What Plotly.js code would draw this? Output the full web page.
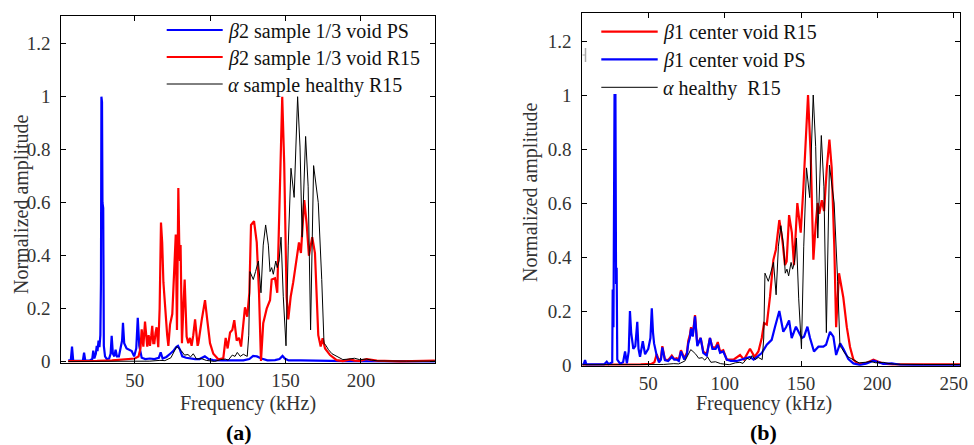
<!DOCTYPE html>
<html>
<head>
<meta charset="utf-8">
<script src="https://cdn.plot.ly/plotly-3.0.1.min.js"></script>
<style>html,body{margin:0;padding:0;background:#fff;}#chart{width:974px;height:445px;}</style>
</head>
<body>
<div id="chart"></div>
<script>
// ---- Panel (a): beta2 sample 1/3 void, PS ----
const b2PsFreq = [5.9,7.6,8.4,9.2,12,15.6,16.4,17.2,20,21.8,22.5,23.2,24.2,24.8,25.3,26,26.6,27.2,27.6,27.9,28.3,28.6,29.1,29.5,30.3,31.4,33,34,34.7,35.5,36.5,37.3,38.2,39.5,40.8,41.6,42.2,43,44.6,46.2,48,49.6,51,52,53,54.6,57,60,63,66,67.2,68.5,71,73.5,75.5,77.5,78.7,80,81.5,84,87,90,93,96.5,99,102,108,115,122,126,128.5,131,134,138,143,146,148,149.5,152,160,170,180,190,200,215,230,249];
const b2PsAmp  = [0.005,0.005,0.057,0.004,0.003,0.004,0.034,0.004,0.004,0.01,0.042,0.012,0.03,0.06,0.04,0.08,0.055,0.1,0.3,1.0,0.98,0.6,0.58,0.06,0.02,0.01,0.012,0.03,0.098,0.03,0.02,0.045,0.02,0.02,0.05,0.08,0.147,0.07,0.05,0.045,0.04,0.02,0.05,0.166,0.06,0.015,0.01,0.012,0.01,0.015,0.035,0.012,0.018,0.03,0.04,0.055,0.06,0.045,0.02,0.015,0.012,0.01,0.01,0.02,0.01,0.006,0.005,0.004,0.005,0.01,0.022,0.02,0.012,0.005,0.006,0.01,0.022,0.012,0.005,0.005,0.005,0.003,0.002,0.002,0.001,0.001,0.001];

// ---- Panel (a): beta2 sample 1/3 void, R15 ----
const b2R15Freq = [5.9,15,25,35,45,50,52.5,53.8,54.6,55.7,56.8,57.6,58.3,59.2,60.1,61.0,61.6,62.3,63,63.8,64.5,65.6,66.5,67.4,68.2,69,70.7,71.5,72.3,73.4,74.9,76.2,77.2,78,78.9,79.5,80,80.4,81.3,82.2,83.1,84.4,85.5,86.6,87.7,88.8,90,91.7,92.2,94.4,96.6,98.1,99.9,102.1,105.4,108.7,110.3,111.6,113.2,114.7,116,117.6,119.1,120.5,122,123.1,124.6,126,127.1,129.1,130.9,132.4,133.7,135.2,137.5,139.7,140.8,143,144.5,146.3,147.8,149.1,150.7,151.8,153.4,155.1,157.4,158.9,160.2,162.4,164,165.5,167.7,169.5,171.7,173.3,174.6,176.2,179.5,183.9,188,192.7,196,199.4,203.8,210.5,226,249];
const b2R15Amp  = [0.002,0.002,0.003,0.005,0.008,0.012,0.02,0.05,0.122,0.057,0.151,0.08,0.057,0.1,0.06,0.1,0.135,0.07,0.07,0.11,0.13,0.055,0.2,0.525,0.45,0.3,0.14,0.1,0.06,0.14,0.18,0.33,0.48,0.12,0.655,0.45,0.38,0.44,0.07,0.2,0.31,0.095,0.07,0.09,0.06,0.1,0.16,0.06,0.07,0.157,0.232,0.157,0.07,0.03,0.009,0.013,0.09,0.05,0.11,0.12,0.157,0.08,0.09,0.057,0.13,0.205,0.17,0.26,0.516,0.53,0.45,0.26,0.003,0.145,0.2,0.232,0.31,0.315,0.26,0.69,1.0,0.75,0.245,0.16,0.245,0.3,0.39,0.45,0.41,0.61,0.52,0.4,0.47,0.41,0.1,0.057,0.088,0.05,0.025,0.006,0.002,0.009,0.004,0.003,0.01,0.004,0.001,0.004];

// ---- alpha healthy sample, R15 (both panels) ----
const alphaFreq = [5.9,30,50,60,66.7,70,74,77.8,79.3,81.1,83,85.3,87,88.8,91,94,97.4,100,103,107,110,112,114.7,116.5,118,120,122,124.6,125.6,126.4,128.6,130.1,132,133.7,135.2,136.8,138.6,139.7,140.8,141.9,143.5,144.5,145.7,147,148.5,150.3,151.8,153.6,155.7,158,159.6,161,163.3,165,166.6,168.6,170.6,171.7,174,175.5,176.9,178.5,180.8,183.9,188,192,195.7,199,203.8,207,211.3,230,254];
const alphaAmp  = [0.001,0.001,0.002,0.002,0.005,0.004,0.015,0.057,0.05,0.04,0.025,0.027,0.018,0.03,0.01,0.012,0.005,0.002,0.001,0.008,0.01,0.006,0.025,0.02,0.035,0.02,0.028,0.02,0.1,0.34,0.31,0.34,0.38,0.26,0.44,0.516,0.44,0.34,0.355,0.33,0.38,0.355,0.38,0.47,0.245,0.06,0.44,0.73,0.62,1.0,0.81,0.47,0.85,0.66,0.12,0.74,0.66,0.6,0.31,0.07,0.06,0.045,0.03,0.02,0.008,0.01,0.013,0.008,0.01,0.006,0.003,0.002,0.002];

// ---- Panel (b): beta1 center void, R15 ----
const b1R15Freq = [6.8,20,35,45,52,54,55.5,57,58.3,59.2,60.9,63,65.4,67,68.6,70,71.4,73.6,75.3,76.2,77.2,78,79.1,80.6,82.1,84.3,86,88.3,90.4,92,94.1,95.5,97,99.1,101.4,105.8,110.1,112.7,116.6,119.6,122.1,124.3,125.8,127.6,129.7,131.9,133.5,135.8,137.8,139.5,140.6,142.2,144,145.4,147.6,149.8,151.5,153.3,154.6,156.4,158.1,159.6,160.9,162,163.6,165.1,166.9,168.6,170.1,171.8,173,174.9,176.7,177.7,180,182.1,184.3,187.6,192,197.4,200.7,204,210,254.3];
const b1R15Amp  = [0.001,0.001,0.001,0.002,0.004,0.01,0.04,0.015,0.025,0.07,0.02,0.018,0.035,0.022,0.025,0.02,0.055,0.025,0.045,0.09,0.11,0.14,0.11,0.185,0.075,0.1,0.05,0.04,0.1,0.065,0.065,0.085,0.05,0.055,0.02,0.02,0.037,0.02,0.06,0.03,0.05,0.1,0.155,0.15,0.253,0.389,0.426,0.537,0.463,0.37,0.383,0.555,0.49,0.37,0.6,0.49,0.65,0.87,1.0,0.77,0.39,0.52,0.6,0.56,0.61,0.57,0.73,0.835,0.73,0.44,0.14,0.34,0.29,0.25,0.14,0.067,0.02,0.003,0.006,0.02,0.012,0.005,0.002,0.002];

// ---- Panel (b): beta1 center void, PS ----
const b1PsFreq = [6.8,7.8,8.6,9.5,15,21,22.8,24,26.4,26.7,27.2,27.9,28.5,28.9,29.3,29.7,31.5,33.5,34.8,36,37.2,38,38.8,40.2,41.5,42.8,43.6,44.6,45.6,46.4,47.9,50,51.4,52.3,53.1,53.8,55.5,57,58.3,59.2,60.9,63,65.4,67,68.6,70,71.4,73.6,75.3,76.2,77.2,78,79.1,80.6,82.1,84.3,86,88.3,90.4,92,94.1,95.5,97,99.1,101.4,104,108,111,113.5,116.6,119,121,124.3,127.6,130.8,133,135.8,138.4,140.2,142.2,143.9,146.7,148.7,150.5,152,154.2,155.9,158.5,161.4,164.6,166.4,169,171.2,173,175.6,177.7,181,184.3,188.7,193,197.4,200.7,204,209.4,214.9,230,254.3];
const b1PsAmp  = [0.002,0.004,0.018,0.002,0.002,0.002,0.012,0.003,0.01,0.28,0.14,1.0,1.0,0.3,0.36,0.02,0.005,0.01,0.05,0.006,0.05,0.2,0.12,0.06,0.07,0.16,0.06,0.03,0.06,0.088,0.04,0.06,0.1,0.21,0.12,0.08,0.035,0.01,0.02,0.065,0.018,0.015,0.03,0.02,0.02,0.015,0.05,0.02,0.04,0.08,0.1,0.135,0.105,0.18,0.07,0.1,0.045,0.035,0.1,0.06,0.06,0.075,0.045,0.05,0.02,0.015,0.015,0.02,0.025,0.03,0.02,0.03,0.044,0.075,0.093,0.142,0.2,0.123,0.14,0.165,0.1,0.142,0.117,0.1,0.105,0.142,0.1,0.05,0.068,0.068,0.075,0.123,0.105,0.037,0.08,0.06,0.022,0.006,0.0,0.006,0.016,0.01,0.004,0.006,0.001,0.0,0.0];

// ---- tick labels and texts ----
const yTicks = [0, 0.2, 0.4, 0.6, 0.8, 1, 1.2];
const xTicksA = [50, 100, 150, 200];
const xTicksB = [50, 100, 150, 200, 250];
const legendA = ["<i>β</i>2 sample 1/3 void PS", "<i>β</i>2 sample 1/3 void R15", "<i>α</i> sample healthy R15"];
const legendB = ["<i>β</i>1 center void R15", "<i>β</i>1 center void PS", "<i>α</i> healthy&#160; R15"];
const xTitle = "Frequency (kHz)";
const yTitle = "Normalized amplitude";

const W = 974, H = 445;
const PX = p => p / W;
const PY = p => 1 - p / H;
const SERIF = "Liberation Serif, Times New Roman, serif";
const BLUE = "#0000ff", RED = "#ff0000", BLACK = "#000000";

const traces = [
  {x: b2PsFreq, y: b2PsAmp, xaxis: "x", yaxis: "y", mode: "lines", line: {color: BLUE, width: 2.2}},
  {x: b2R15Freq, y: b2R15Amp, xaxis: "x", yaxis: "y", mode: "lines", line: {color: RED, width: 2.2}},
  {x: alphaFreq, y: alphaAmp, xaxis: "x", yaxis: "y", mode: "lines", line: {color: BLACK, width: 1}},
  {x: b1R15Freq, y: b1R15Amp, xaxis: "x2", yaxis: "y2", mode: "lines", line: {color: RED, width: 2.2}},
  {x: b1PsFreq, y: b1PsAmp, xaxis: "x2", yaxis: "y2", mode: "lines", line: {color: BLUE, width: 2.2}},
  {x: alphaFreq, y: alphaAmp, xaxis: "x2", yaxis: "y2", mode: "lines", line: {color: BLACK, width: 1}}
];

const tickFont = {family: SERIF, size: 19, color: "#333"};
function xax(domain, range, vals, anchor) {
  return {domain, range, anchor, tickvals: vals, ticktext: vals.map(String),
    ticks: "inside", ticklen: 5, tickcolor: "#000", mirror: "ticks", showline: true,
    linecolor: "#000", linewidth: 1, showgrid: false, zeroline: false,
    tickfont: tickFont, fixedrange: true};
}
function yax(domain, range, anchor) {
  return {domain, range, anchor, tickvals: yTicks, ticktext: yTicks.map(String),
    ticks: "inside", ticklen: 5, tickcolor: "#000", mirror: "ticks", showline: true,
    linecolor: "#000", linewidth: 1, showgrid: false, zeroline: false,
    tickfont: tickFont, ticklabelstandoff: 6, fixedrange: true};
}

const annotations = [];
const shapes = [];
function legend(labels, colors, widths, x0, x1, ys, tx) {
  labels.forEach((t, i) => {
    shapes.push({type: "line", xref: "paper", yref: "paper", x0: PX(x0), x1: PX(x1), y0: PY(ys[i]), y1: PY(ys[i]),
      line: {color: colors[i], width: widths[i]}});
    annotations.push({xref: "paper", yref: "paper", x: PX(tx), y: PY(ys[i] + 1), xanchor: "left", yanchor: "middle",
      text: t, showarrow: false, font: {family: SERIF, size: 20, color: "#111"}});
  });
}
legend(legendA, [BLUE, RED, BLACK], [2.2, 2.2, 1], 166.7, 222.7, [30, 57, 84], 226);
legend(legendB, [RED, BLUE, BLACK], [2.2, 2.2, 1], 601.3, 657.7, [31.7, 59.3, 87.3], 661);

// small grey mark near the top-left of panel (b)
shapes.push({type: "line", xref: "paper", yref: "paper", x0: PX(585.5), x1: PX(585.5), y0: PY(48), y1: PY(62), line: {color: "#aaa", width: 1.5}});
shapes.push({type: "line", xref: "paper", yref: "paper", x0: PX(582.5), x1: PX(585.5), y0: PY(55), y1: PY(55), line: {color: "#aaa", width: 1}});

const titleFont = {family: SERIF, size: 20, color: "#333"};
annotations.push({xref: "paper", yref: "paper", x: PX(248), y: PY(390), xanchor: "center", yanchor: "top", text: xTitle, showarrow: false, font: titleFont});
annotations.push({xref: "paper", yref: "paper", x: PX(764), y: PY(390), xanchor: "center", yanchor: "top", text: xTitle, showarrow: false, font: titleFont});
annotations.push({xref: "paper", yref: "paper", x: PX(22), y: PY(204), xanchor: "center", yanchor: "middle", textangle: -90, text: yTitle, showarrow: false, font: titleFont});
annotations.push({xref: "paper", yref: "paper", x: PX(530), y: PY(192), xanchor: "center", yanchor: "middle", textangle: -90, text: yTitle, showarrow: false, font: titleFont});
annotations.push({xref: "paper", yref: "paper", x: PX(239), y: PY(432), xanchor: "center", yanchor: "middle", text: "<b>(a)</b>", showarrow: false, font: {family: SERIF, size: 22, color: "#000"}});
annotations.push({xref: "paper", yref: "paper", x: PX(763), y: PY(432), xanchor: "center", yanchor: "middle", text: "<b>(b)</b>", showarrow: false, font: {family: SERIF, size: 22, color: "#000"}});

const layout = {
  width: W, height: H, margin: {l: 0, r: 0, t: 0, b: 0},
  paper_bgcolor: "#fff", plot_bgcolor: "#fff", showlegend: false,
  xaxis: xax([PX(61.3), PX(435.3)], [1.3, 249.3], xTicksA, "y"),
  yaxis: yax([PY(363), PY(16)], [-0.0049, 1.3045], "x"),
  xaxis2: xax([PX(582.3), PX(960.3)], [6.8, 254.3], xTicksB, "y2"),
  yaxis2: yax([PY(365.7), PY(13.3)], [-0.0026, 1.3026], "x2"),
  annotations, shapes
};

Plotly.newPlot("chart", traces, layout, {displayModeBar: false, staticPlot: true});
</script>
</body>
</html>
